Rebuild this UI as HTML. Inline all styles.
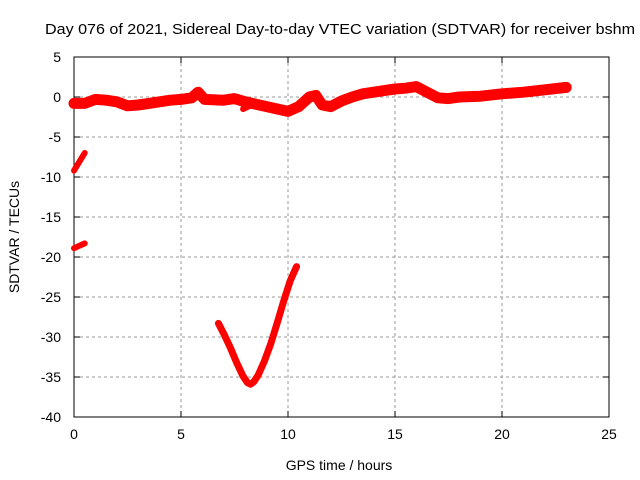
<!DOCTYPE html>
<html><head><meta charset="utf-8"><style>
body{margin:0;background:#fff;}
svg{display:block;font-family:"Liberation Sans",sans-serif;}
</style></head><body>
<svg id="chart" width="640" height="480">
<text x="45" y="34" font-size="15" textLength="590" lengthAdjust="spacingAndGlyphs">Day 076 of 2021, Sidereal Day-to-day VTEC variation (SDTVAR) for receiver bshm</text>
<g id="grid"></g><g id="axes"></g><g id="series"></g>
<text x="339" y="470" font-size="14" text-anchor="middle">GPS time / hours</text>
<text transform="translate(19,237) rotate(-90)" font-size="14" text-anchor="middle">SDTVAR / TECUs</text>
</svg>
<script>
const xTicks=[0,5,10,15,20,25];
const yTicks=[5,0,-5,-10,-15,-20,-25,-30,-35,-40];
const mainHours=[0,0.5,1,1.5,2,2.5,3,3.5,4,4.5,5,5.5,5.8,6.1,7,7.5,8,8.5,9,9.5,10,10.5,11,11.3,11.6,12,12.5,13,13.5,14,14.5,15,15.5,16,16.5,17,17.5,18,19,20,21,22,23];
const mainValues=[-0.8,-0.8,-0.3,-0.4,-0.6,-1.1,-1.0,-0.8,-0.6,-0.4,-0.3,-0.1,0.6,-0.3,-0.4,-0.2,-0.6,-0.9,-1.2,-1.5,-1.8,-1.2,0.0,0.2,-1.0,-1.2,-0.5,0.0,0.4,0.6,0.8,1.0,1.1,1.3,0.6,-0.1,-0.2,0.0,0.1,0.4,0.6,0.9,1.2];
const branchHours=[7.9,8.3,8.8,9.3];
const branchValues=[-1.5,-1.0,-1.3,-1.6];
const seg1Hours=[0,0.5];
const seg1Values=[-9.2,-7.0];
const seg2Hours=[0,0.5];
const seg2Values=[-18.9,-18.3];
const vHours=[6.75,7.0,7.3,7.6,7.9,8.1,8.25,8.4,8.6,8.9,9.2,9.5,9.8,10.1,10.4];
const vValues=[-28.3,-29.6,-31.3,-33.2,-34.9,-35.7,-35.9,-35.6,-34.8,-33.0,-30.8,-28.2,-25.5,-23.0,-21.2];
const X0=74,X1=609,Y0=57,Y1=417;
const sx=v=>X0+(v-0)/25*(X1-X0);
const sy=v=>Y0+(5-v)/45*(Y1-Y0);
const NS="http://www.w3.org/2000/svg";
function mk(t,a,p){const e=document.createElementNS(NS,t);for(const k in a)e.setAttribute(k,a[k]);p.appendChild(e);return e;}
const grid=document.getElementById('grid'),axes=document.getElementById('axes'),ser=document.getElementById('series');
xTicks.forEach(t=>{
  if(t>0&&t<25){const g=mk('line',{x1:sx(t),x2:sx(t),y1:Y0,y2:Y1,stroke:'#999','stroke-dasharray':'3,3'},grid);
  
  }
  const l=mk('text',{x:sx(t),y:Y1+22,'font-size':14,'text-anchor':'middle'},axes);l.textContent=t;
  
  
  mk('line',{x1:sx(t),x2:sx(t),y1:Y1,y2:Y1-6,stroke:'#000'},axes);
  mk('line',{x1:sx(t),x2:sx(t),y1:Y0,y2:Y0+6,stroke:'#000'},axes);
});
yTicks.forEach(t=>{
  if(t<5&&t>-40){const g=mk('line',{x1:X0,x2:X1,y1:sy(t),y2:sy(t),stroke:'#999','stroke-dasharray':'3,3'},grid);
  
  }
  const l=mk('text',{x:X0-13,y:sy(t)+5,'font-size':14,'text-anchor':'end'},axes);l.textContent=t;
  
  
  mk('line',{x1:X0,x2:X0+6,y1:sy(t),y2:sy(t),stroke:'#000'},axes);
  mk('line',{x1:X1,x2:X1-6,y1:sy(t),y2:sy(t),stroke:'#000'},axes);
});
const fr=mk('rect',{x:X0,y:Y0,width:X1-X0,height:Y1-Y0,fill:'none',stroke:'#000'},axes);


function series(h,v,w,name){
  const p=mk('polyline',{points:h.map((x,i)=>sx(x)+','+sy(v[i])).join(' '),fill:'none',stroke:'#f00','stroke-width':w,'stroke-linejoin':'round','stroke-linecap':'round'},ser);
  
  
}
series(mainHours,mainValues,11,'main-series');
series(branchHours,branchValues,6,'branch-series');
series(seg1Hours,seg1Values,6,'segment-near-minus-8');
series(seg2Hours,seg2Values,6,'segment-near-minus-19');
series(vHours,vValues,7,'v-shaped-series');
</script>
</body></html>
